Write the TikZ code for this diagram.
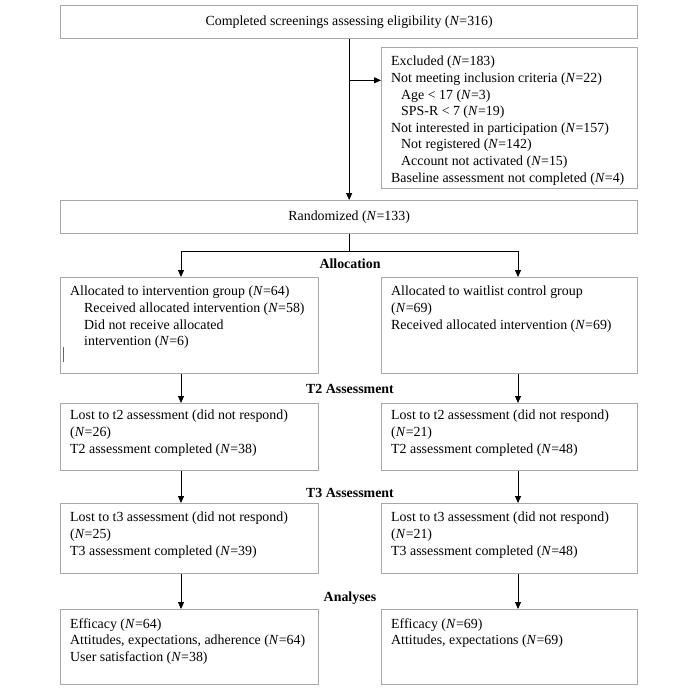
\documentclass[tikz,border=0pt]{standalone}
\usepackage{fontspec}
\setmainfont{Liberation Serif}
\usetikzlibrary{arrows.meta,positioning}
\newcommand{\sampleN}{\textit{N}}
\tikzset{
	flowbox/.style={draw={rgb,255:red,168;green,168;blue,168}, line width=1.3pt, inner sep=0pt, anchor=north west, font=\fontsize{13.9}{16.6}\selectfont},
	flowtext/.style={anchor=north west, inner sep=0pt, align=left, font=\fontsize{13.9}{16.6}\selectfont},
	steplabel/.style={inner sep=0pt, font=\fontsize{13.9}{16.6}\selectfont\bfseries},
	flowarrow/.style={line width=0.8pt, -{Triangle[length=7pt,width=6pt]}}
}

\begin{document}
\begin{tikzpicture}[x=1pt, y=-1pt]
			%%%%% START %%%%%
			\useasboundingbox (0,0) rectangle (700,689);
			
			\node[flowbox, minimum width=577pt, minimum height=33pt] (screen) at (60,5) {Completed screenings assessing eligibility (\sampleN=316)};
			
			\node[flowbox, minimum width=256pt, minimum height=141pt] (excl) at (381,47) {};
			\node[flowtext] (excltxt) at ([shift={(10,9)}]excl.north west) {Excluded (\sampleN=183)\\
				Not meeting inclusion criteria (\sampleN=22)\\
				\hspace*{10pt}Age < 17 (\sampleN=3)\\
				\hspace*{10pt}SPS-R < 7 (\sampleN=19)\\
				Not interested in participation (\sampleN=157)\\
				\hspace*{10pt}Not registered (\sampleN=142)\\
				\hspace*{10pt}Account not activated (\sampleN=15)\\
				Baseline assessment not completed (\sampleN=4)};
			
			\node[flowbox, minimum width=577pt, minimum height=33pt] (rand) at (60,200) {Randomized (\sampleN=133)};
			
			%%%%% ALLOCATION %%%%%
			\node[steplabel] (alloclbl) at (350,264) {Allocation};
			\node[flowbox, minimum width=258pt, minimum height=96pt] (alloc1) at (60,277) {};
			\node[flowtext] (alloc1txt) at ([shift={(10,9)}]alloc1.north west) {Allocated to intervention group (\sampleN=64)\\
				\hspace*{14pt}Received allocated intervention (\sampleN=58)\\
				\hspace*{14pt}Did not receive allocated\\
				\hspace*{14pt}intervention (\sampleN=6)};
			\draw[line width=0.8pt, black!60] (63,347) -- (63,362);
			\node[flowbox, minimum width=256pt, minimum height=96pt] (alloc2) at (381,277) {};
			\node[flowtext] (alloc2txt) at ([shift={(10,9)}]alloc2.north west) {Allocated to waitlist control group\\
				(\sampleN=69)\\
				Received allocated intervention (\sampleN=69)};
			
			%%%%% T2 %%%%%
			\node[steplabel] (t2lbl) at (350,389) {T2 Assessment};
			\node[flowbox, minimum width=258pt, minimum height=67pt] (t2a) at (60,403) {};
			\node[flowtext] (t2atxt) at ([shift={(10,7)}]t2a.north west) {Lost to t2 assessment (did not respond)\\
				(\sampleN=26)\\
				T2 assessment completed (\sampleN=38)};
			\node[flowbox, minimum width=256pt, minimum height=67pt] (t2b) at (381,403) {};
			\node[flowtext] (t2btxt) at ([shift={(10,7)}]t2b.north west) {Lost to t2 assessment (did not respond)\\
				(\sampleN=21)\\
				T2 assessment completed (\sampleN=48)};
			
			%%%%% T3 %%%%%
			\node[steplabel] (t3lbl) at (350,493) {T3 Assessment};
			\node[flowbox, minimum width=258pt, minimum height=70pt] (t3a) at (60,503) {};
			\node[flowtext] (t3atxt) at ([shift={(10,9)}]t3a.north west) {Lost to t3 assessment (did not respond)\\
				(\sampleN=25)\\
				T3 assessment completed (\sampleN=39)};
			\node[flowbox, minimum width=256pt, minimum height=70pt] (t3b) at (381,503) {};
			\node[flowtext] (t3btxt) at ([shift={(10,9)}]t3b.north west) {Lost to t3 assessment (did not respond)\\
				(\sampleN=21)\\
				T3 assessment completed (\sampleN=48)};
			
			%%%%% ANALYSES %%%%%
			\node[steplabel] (analbl) at (350,598) {Analyses};
			\node[flowbox, minimum width=258pt, minimum height=75pt] (ana1) at (60,609) {};
			\node[flowtext] (ana1txt) at ([shift={(10,9)}]ana1.north west) {Efficacy (\sampleN=64)\\
				Attitudes, expectations, adherence (\sampleN=64)\\
				User satisfaction (\sampleN=38)};
			\node[flowbox, minimum width=256pt, minimum height=75pt] (ana2) at (381,609) {};
			\node[flowtext] (ana2txt) at ([shift={(10,9)}]ana2.north west) {Efficacy (\sampleN=69)\\
				Attitudes, expectations (\sampleN=69)};
			
			%%%%% ARROWS %%%%%
			\path (screen.south) ++(0,41) coordinate (split);
			\path (rand.south) ++(0,17) coordinate (fork);
			\coordinate (lcol) at (181,0);
			\coordinate (rcol) at (518,0);
			
			\draw[flowarrow] (screen.south) -- (rand.north);
			\draw[flowarrow] (split) -- (split -| excl.west);
			\draw[line width=0.8pt] (rand.south) -- (fork);
			\draw[flowarrow] (fork) -| (alloc1.north -| lcol);
			\draw[flowarrow] (fork) -| (alloc2.north -| rcol);
			
			\foreach \a/\b in {alloc1/t2a, t2a/t3a, t3a/ana1}
				\draw[flowarrow] (\a.south -| lcol) -- (\b.north -| lcol);
			\foreach \a/\b in {alloc2/t2b, t2b/t3b, t3b/ana2}
				\draw[flowarrow] (\a.south -| rcol) -- (\b.north -| rcol);
			
			%%%%% END %%%%%
\end{tikzpicture}
\end{document}
